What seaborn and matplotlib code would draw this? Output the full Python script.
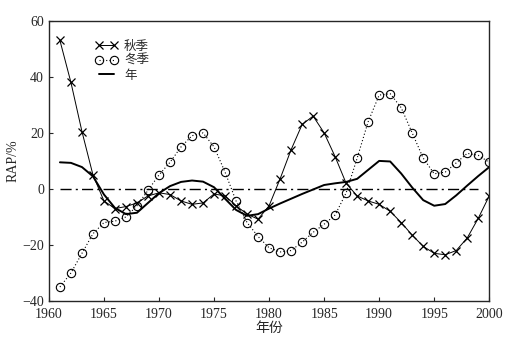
import numpy as np
import pandas as pd
import seaborn as sns
import matplotlib
matplotlib.use("Agg")
import matplotlib.pyplot as plt

# data
years = list(range(1961, 2001))
autumn = [53, 38, 20.5, 5, -4.3, -7, -6.3, -5, -2.5, -1.4,
          -2, -4.3, -5.5, -5, -1.8, -2.5, -6, -9, -10.8, -6,
          3.6, 14, 23, 26, 20, 11.5, 2, -2.5, -4.3, -5.5,
          -8, -12, -16.5, -20.5, -23, -23.5, -22, -17.5, -10.5, -2.5]
winter = [-35, -30, -23, -16, -12, -11.5, -10, -6, -0.5, 5,
          9.5, 15, 19, 20, 15, 6, -4.3, -12, -17, -21,
          -22.5, -22, -19, -15.5, -12.6, -9.3, -1.4, 11, 24, 33.5,
          34, 29, 20, 11, 5.4, 6, 9.3, 12.7, 12, 9.5]
annual = [9.5, 9.3, 7.8, 4.5, -2, -6.8, -9, -8.5, -5, -1.5,
          1, 2.5, 3, 2.6, 0.6, -3.5, -7.5, -9.6, -9, -7,
          -5.2, -3.5, -1.8, -0.2, 1.4, 2, 2.5, 3.6, 6.8, 10,
          9.8, 5.5, 0.5, -4, -6, -5.4, -2.3, 1.2, 4.6, 7.8]
zero_span = [1961, 1999]

df = pd.DataFrame({"year": years, "autumn": autumn,
                   "winter": winter, "annual": annual})

sns.set_style("ticks")
plt.rcParams['font.family'] = ['Liberation Serif', 'Noto Sans CJK SC']
plt.rcParams['axes.unicode_minus'] = True

fig = plt.figure(figsize=(5.15, 3.42), dpi=100)
ax = fig.add_axes([0.095, 0.12, 0.855, 0.819])

sns.lineplot(data=df, x="year", y="autumn", ax=ax, color="black",
             lw=0.7, marker="x", markersize=6, markeredgewidth=0.9,
             markeredgecolor="black", label="秋季")
sns.lineplot(data=df, x="year", y="winter", ax=ax, color="black",
             lw=0.8, ls=(0, (1, 2)), marker="o", markersize=6,
             markerfacecolor="none", markeredgecolor="black",
             markeredgewidth=0.8, label="冬季")
sns.lineplot(data=df, x="year", y="annual", ax=ax, color="black",
             lw=1.4, label="年")
ax.plot(zero_span, [0, 0], color="black", lw=1.0, ls=(0, (8, 3, 1.5, 3)))

ax.set_xlim(1960, 2000)
ax.set_ylim(-40, 60)
ax.set_xticks(range(1960, 2001, 5))
ax.set_yticks(range(-40, 61, 20))
ax.tick_params(direction="in", length=3, labelsize=10, width=0.8)
ax.tick_params(axis="x", pad=5)
for s in ax.spines.values():
    s.set_linewidth(1.0)
    s.set_visible(True)

ax.set_xlabel("年份", fontsize=10, labelpad=1)
ax.set_ylabel("RAP/%", fontsize=10, labelpad=2)

leg = ax.legend(loc="upper left", bbox_to_anchor=(0.08, 0.97), frameon=False,
                fontsize=9, handlelength=1.8, handletextpad=0.5,
                labelspacing=0.2, numpoints=2)

fig.savefig("out.png", dpi=100)
